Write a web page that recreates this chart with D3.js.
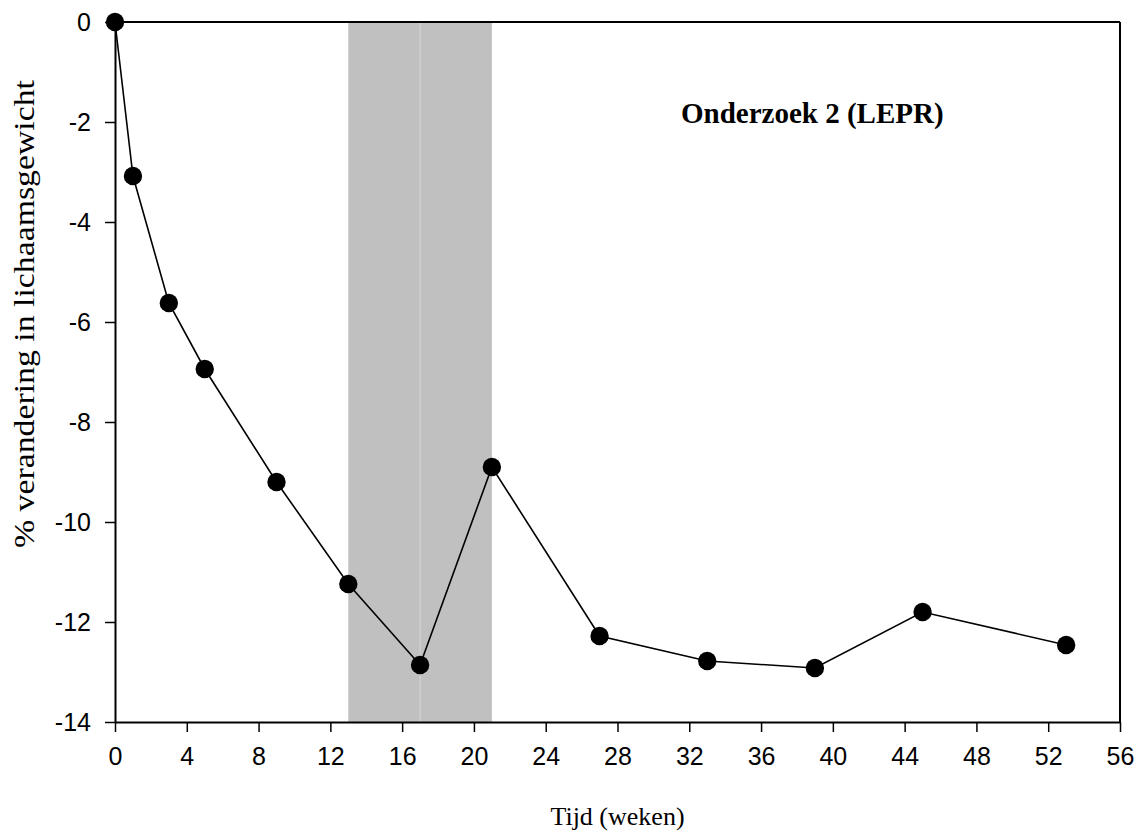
<!DOCTYPE html>
<html>
<head>
<meta charset="utf-8">
<script src="https://cdn.jsdelivr.net/npm/d3@7"></script>
<style>
  html, body { margin: 0; padding: 0; background: #fff; }
  svg { display: block; }
</style>
</head>
<body>
<script>
// Data
const weeks = [0, 1, 3, 5, 9, 13, 17, 21, 27, 33, 39, 45, 53];
const weightChange = [0, -3.08, -5.62, -6.94, -9.2, -11.24, -12.86, -8.9, -12.28, -12.78, -12.92, -11.8, -12.46];
const shadedPeriods = [[13, 17], [17, 21]];
const xTicks = [0, 4, 8, 12, 16, 20, 24, 28, 32, 36, 40, 44, 48, 52, 56];
const yTicks = [0, -2, -4, -6, -8, -10, -12, -14];
const titleText = "Onderzoek 2 (LEPR)";
const xLabel = "Tijd (weken)";
const yLabel = "%  verandering in lichaamsgewicht";

const W = 1141, H = 832;
const svg = d3.select("body").append("svg").attr("width", W).attr("height", H);

const x = d3.scaleLinear().domain([0, 56]).range([115, 1120]);
const y = d3.scaleLinear().domain([0, -14]).range([22, 722]);

// shaded region
svg.append("g").selectAll("rect").data(shadedPeriods).join("rect")
  .attr("x", d => x(d[0])).attr("width", d => x(d[1]) - x(d[0]))
  .attr("y", y(0)).attr("height", y(-14) - y(0))
  .attr("fill", "#c0c0c0");
svg.append("line")
  .attr("x1", x(17)).attr("x2", x(17)).attr("y1", y(0)).attr("y2", y(-14))
  .attr("stroke", "#d4d4d4").attr("stroke-width", 1);

// frame (top & right)
svg.append("line").attr("x1", x(0)).attr("x2", x(56)).attr("y1", y(0)).attr("y2", y(0))
  .attr("stroke", "#000").attr("stroke-width", 2);
svg.append("line").attr("x1", x(56)).attr("x2", x(56)).attr("y1", y(0)).attr("y2", y(-14))
  .attr("stroke", "#000").attr("stroke-width", 2);

// axes
const xAxis = d3.axisBottom(x).tickValues(xTicks).tickSize(10).tickPadding(15).tickSizeOuter(0).tickFormat(d3.format("d"));
const gx = svg.append("g").attr("transform", `translate(0,${y(-14)})`).call(xAxis);
const yAxis = d3.axisLeft(y).tickValues(yTicks).tickSize(10).tickPadding(14).tickSizeOuter(0).tickFormat(d => d === 0 ? "0" : "-" + Math.abs(d));
const gy = svg.append("g").attr("transform", `translate(${x(0)},0)`).call(yAxis);

[gx, gy].forEach(g => {
  g.select(".domain").attr("stroke", "#000").attr("stroke-width", 2);
  g.selectAll(".tick line").attr("stroke", "#000").attr("stroke-width", 1.5);
  g.selectAll(".tick text").attr("fill", "#000")
    .attr("font-family", "'Liberation Sans', Arial, sans-serif").attr("font-size", 25);
});

// line
svg.append("path")
  .datum(weeks.map((w, i) => [w, weightChange[i]]))
  .attr("fill", "none").attr("stroke", "#000").attr("stroke-width", 1.6)
  .attr("d", d3.line().x(d => x(d[0])).y(d => y(d[1])));

// points
svg.append("g").selectAll("circle").data(weeks.map((w, i) => [w, weightChange[i]])).join("circle")
  .attr("cx", d => x(d[0])).attr("cy", d => y(d[1])).attr("r", 9.2).attr("fill", "#000");

// title
svg.append("text").attr("x", 681).attr("y", 123)
  .attr("font-family", "'Liberation Serif', 'Times New Roman', serif")
  .attr("font-weight", "bold").attr("font-size", 29).text(titleText);

// x label
svg.append("text").attr("x", (x(0) + x(56)) / 2).attr("y", 825).attr("text-anchor", "middle")
  .attr("font-family", "'Liberation Serif', 'Times New Roman', serif")
  .attr("font-size", 26).text(xLabel);

// y label
svg.append("text").attr("transform", "translate(34,548) rotate(-90)")
  .attr("text-anchor", "start")
  .attr("textLength", 468).attr("lengthAdjust", "spacingAndGlyphs")
  .attr("font-family", "'Liberation Serif', 'Times New Roman', serif")
  .attr("font-size", 30).text(yLabel);
</script>
</body>
</html>
